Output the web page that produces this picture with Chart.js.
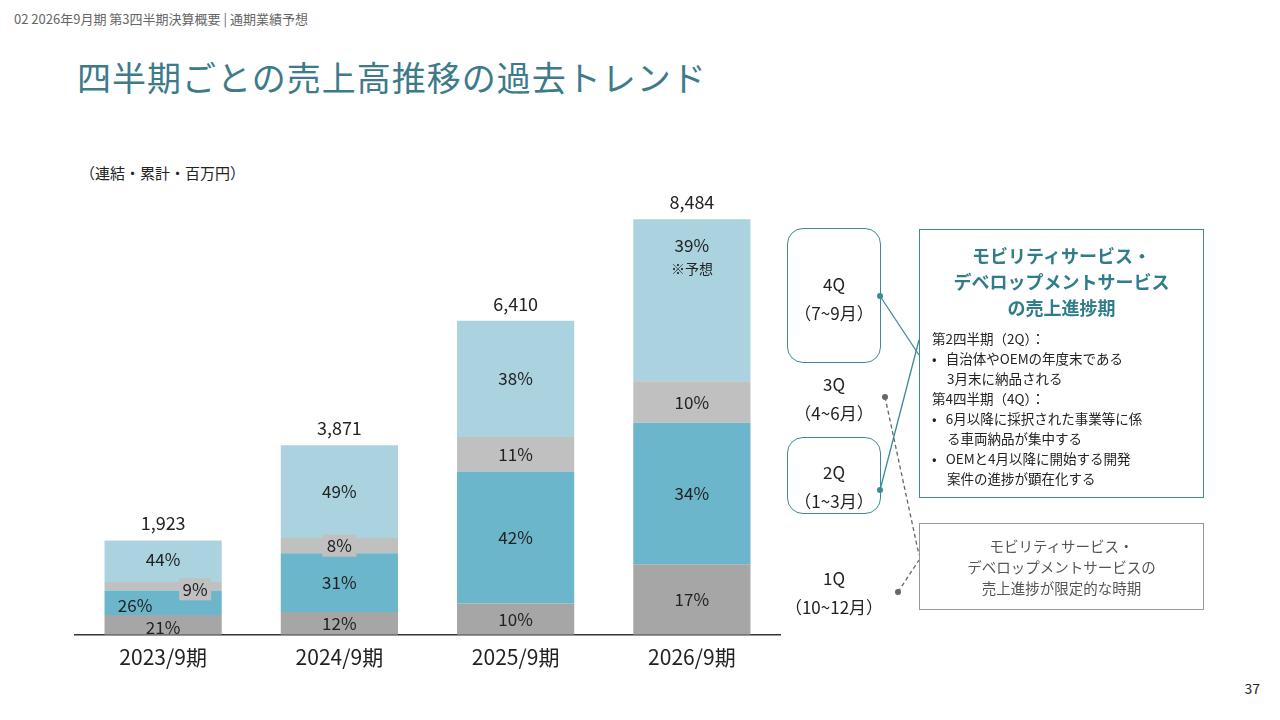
<!DOCTYPE html>
<html><head><meta charset="utf-8">
<script src="https://cdn.jsdelivr.net/npm/chart.js@4"></script>
<style>
body{margin:0;width:1280px;height:720px;background:#fff;font-family:"Noto Sans CJK JP","Noto Sans",sans-serif;position:relative;overflow:hidden;color:#222}
.a{position:absolute}
#wrap{position:absolute;left:0;top:150px;width:800px;height:530px}
.q{position:absolute;width:100px;text-align:center;font-size:17px;line-height:29px}
.rb{position:absolute;border:1.5px solid #3d8a96;border-radius:16px}
</style></head><body>
<div class="a" style="left:14px;top:9px;font-size:13px;color:#666">02 2026年9月期 第3四半期決算概要 | 通期業績予想</div>
<div class="a" style="left:77px;top:52px;font-size:34px;color:#3d7a8a;letter-spacing:1px">四半期ごとの売上高推移の過去トレンド</div>
<div class="a" style="left:80px;top:162px;font-size:15px">（連結・累計・百万円）</div>
<div class="a" style="right:20px;top:678px;font-size:14px">37</div>
<div id="wrap"><canvas id="chart" width="800" height="530"></canvas></div>

<div class="rb" style="left:787px;top:228px;width:92px;height:133px"></div>
<div class="rb" style="left:787px;top:437px;width:92px;height:75px"></div>
<div class="q" style="left:784px;top:269px">4Q<br>（7~9月）</div>
<div class="q" style="left:784px;top:369px">3Q<br>（4~6月）</div>
<div class="q" style="left:784px;top:457px">2Q<br>（1~3月）</div>
<div class="q" style="left:784px;top:563px">1Q<br>（10~12月）</div>
<svg class="a" style="left:0;top:0" width="1280" height="720">
<line x1="880" y1="296" x2="919" y2="355" stroke="#3d8a96" stroke-width="1.3"/>
<line x1="880" y1="490" x2="919" y2="340" stroke="#3d8a96" stroke-width="1.3"/>
<circle cx="880" cy="296" r="3" fill="#3d8a96"/><circle cx="880" cy="490" r="3" fill="#3d8a96"/>
<line x1="885" y1="397" x2="919" y2="555" stroke="#666" stroke-width="1.3" stroke-dasharray="4,3"/>
<line x1="898" y1="592" x2="919" y2="560" stroke="#666" stroke-width="1.3" stroke-dasharray="4,3"/>
<circle cx="885" cy="397" r="3" fill="#666"/><circle cx="898" cy="592" r="3" fill="#666"/>
</svg>
<div class="a" style="left:919px;top:229px;width:283px;height:267px;border:1.5px solid #3d8a96">
 <div style="text-align:center;color:#2f7d8a;font-weight:bold;font-size:18px;line-height:26px;margin-top:12px">モビリティサービス・<br>デベロップメントサービス<br>の売上進捗期</div>
 <div style="font-size:13.5px;line-height:20px;margin:8px 0 0 12px">第2四半期（2Q）：<br>•&nbsp;&nbsp;&nbsp;自治体やOEMの年度末である<br>&nbsp;&nbsp;&nbsp;&nbsp;&nbsp;3月末に納品される<br>第4四半期（4Q）：<br>•&nbsp;&nbsp;&nbsp;6月以降に採択された事業等に係<br>&nbsp;&nbsp;&nbsp;&nbsp;&nbsp;る車両納品が集中する<br>•&nbsp;&nbsp;&nbsp;OEMと4月以降に開始する開発<br>&nbsp;&nbsp;&nbsp;&nbsp;&nbsp;案件の進捗が顕在化する</div>
</div>
<div class="a" style="left:919px;top:523px;width:283px;height:85px;border:1.5px solid #999;text-align:center;font-size:14.5px;line-height:21px;color:#555;display:flex;align-items:center;justify-content:center">モビリティサービス・<br>デベロップメントサービスの<br>売上進捗が限定的な時期</div>

<script>
const categories = ["2023/9期", "2024/9期", "2025/9期", "2026/9期"];
const totals = [1923, 3871, 6410, 8484];
const q1 = [404, 465, 641, 1442];
const q2 = [500, 1200, 2692, 2885];
const q3 = [173, 310, 705, 848];
const q4 = [846, 1896, 2372, 3309];
const q1Pct = ["21%", "12%", "10%", "17%"];
const q2Pct = ["26%", "31%", "42%", "34%"];
const q3Pct = ["9%", "8%", "11%", "10%"];
const q4Pct = ["44%", "49%", "38%", "39%"];

const labelPlugin = {
  id: "labels",
  afterDatasetsDraw(c) {
    const ctx = c.ctx;
    const pcts = [q1Pct, q2Pct, q3Pct, q4Pct];
    ctx.save();
    ctx.textAlign = "center"; ctx.textBaseline = "middle";
    ctx.font = "17px 'Noto Sans CJK JP'";
    c.data.datasets.forEach((ds, di) => {
      c.getDatasetMeta(di).data.forEach((bar, i) => {
        let x = bar.x, y = (bar.y + bar.base) / 2;
        const t = pcts[di][i];
        if (i === 0 && di === 1) { x -= 28; y += 3; }
        if (i === 0 && di === 2) {
          x += 32; y += 3;
          ctx.fillStyle = "#c0c0c0"; ctx.fillRect(x - 16, y - 11, 32, 22);
        }
        if (i === 0 && di === 0) y += 3;
        if (i === 0 && di === 3) y -= 2;
        if (i === 1 && di === 2) { ctx.fillStyle = "#c0c0c0"; ctx.fillRect(x - 17, y - 11, 34, 22); }
        ctx.fillStyle = "#222";
        if (di === 3 && i === 3) {
          ctx.fillText(t, x, y - 55);
          ctx.font = "14px 'Noto Sans CJK JP'";
          ctx.fillText("※予想", x, y - 32);
          ctx.font = "17px 'Noto Sans CJK JP'";
        } else ctx.fillText(t, x, y);
      });
    });
    ctx.font = "18px 'Noto Sans CJK JP'";
    c.getDatasetMeta(3).data.forEach((bar, i) => {
      ctx.fillText(totals[i].toLocaleString("en-US"), bar.x, bar.y - 17);
    });
    ctx.restore();
  }
};

new Chart(document.getElementById("chart"), {
  type: "bar",
  data: {
    labels: categories,
    datasets: [
      { label: "1Q", data: q1, backgroundColor: "#a6a6a6" },
      { label: "2Q", data: q2, backgroundColor: "#6cb6cc" },
      { label: "3Q", data: q3, backgroundColor: "#c0c0c0" },
      { label: "4Q", data: q4, backgroundColor: "#abd3df" }
    ].map(d => Object.assign(d, { barPercentage: 1, categoryPercentage: 0.665, borderWidth: 0 }))
  },
  options: {
    responsive: false, animation: false,
    layout: { padding: { left: 75, right: 20, top: 44 } },
    plugins: { legend: { display: false }, tooltip: { enabled: false } },
    scales: {
      x: { stacked: true, grid: { display: false, drawTicks: false },
           border: { color: "#333", width: 1.5 },
           ticks: { color: "#222", font: { size: 21, family: "Noto Sans CJK JP" }, padding: 10 } },
      y: { stacked: true, display: false, min: 0, max: 9000 }
    }
  },
  plugins: [labelPlugin]
});
</script>
</body></html>
